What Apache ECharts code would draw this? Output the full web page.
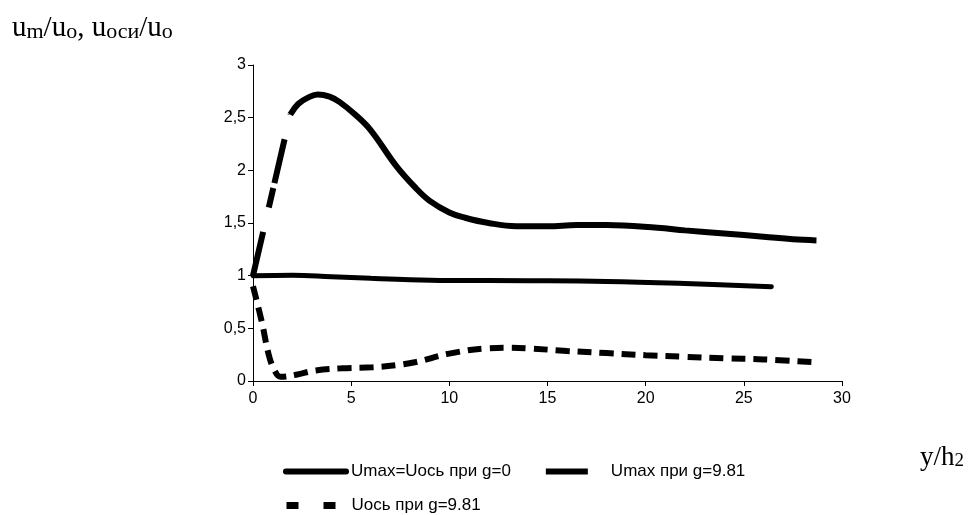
<!DOCTYPE html>
<html>
<head>
<meta charset="utf-8">
<script src="https://cdn.jsdelivr.net/npm/echarts@6/dist/echarts.min.js"></script>
<style>
  html, body { margin: 0; padding: 0; background: #fff; }
  #main { width: 976px; height: 515px; }
</style>
</head>
<body>
<div id="main"></div>
<script>
// данные
var xTicks = [0, 5, 10, 15, 20, 25, 30];
var yTicks = [0, 0.5, 1, 1.5, 2, 2.5, 3];

var names = ['Umax=Uось при g=0', 'Umax при g=9.81', 'Uось при g=9.81'];

// Umax=Uось при g=0
var g0X = [0, 2, 4, 6, 8, 10, 14, 18, 22, 26.4];
var g0Y = [1.0, 1.005, 0.99, 0.975, 0.962, 0.955, 0.952, 0.945, 0.925, 0.895];

// Umax при g=9.81 (начальный участок, штрихом)
var umaxRiseX = [0, 1.9];
var umaxRiseY = [1.0, 2.53];
// Umax при g=9.81 (дальше)
var umaxX = [1.9, 2.3, 2.8, 3.3, 3.9, 4.4, 5.2, 6.0, 7.3, 8.3, 9.0, 10.0, 10.8, 12, 13.4, 15, 16.5, 18, 20.6, 22, 24, 26, 27.5, 28.7];
var umaxY = [2.53, 2.63, 2.69, 2.72, 2.70, 2.65, 2.53, 2.38, 2.04, 1.83, 1.71, 1.60, 1.55, 1.50, 1.47, 1.47, 1.48, 1.48, 1.455, 1.43, 1.40, 1.37, 1.345, 1.335];

// Uось при g=9.81
var uosX = [0, 0.45, 0.8, 1.1, 1.4, 2.2, 3.2, 4.5, 6.1, 7.3, 8.3, 10, 11.9, 13, 14, 16, 18, 20, 22, 24, 26, 28.5];
var uosY = [0.9, 0.56, 0.25, 0.1, 0.04, 0.06, 0.10, 0.12, 0.13, 0.15, 0.18, 0.26, 0.31, 0.315, 0.31, 0.285, 0.265, 0.245, 0.23, 0.215, 0.205, 0.18];

function pairs(xs, ys) {
    return xs.map(function (x, i) { return [x, ys[i]]; });
}

var myChart = echarts.init(document.getElementById('main'));

var font = 'Liberation Sans, Arial, sans-serif';
var serif = 'Liberation Serif, Times New Roman, serif';

var option = {
    animation: false,
    backgroundColor: '#fff',
    color: ['#000', '#000', '#000'],
    title: [
        {
            text: 'u{s|m}/u{s|o}, u{s|оси}/u{s|o}',
            left: 7,
            top: 9,
            textStyle: {
                fontFamily: serif,
                fontSize: 29,
                fontWeight: 'normal',
                color: '#000',
                rich: {
                    s: {fontFamily: serif, fontSize: 22, color: '#000', verticalAlign: 'bottom'}
                }
            }
        },
        {
            text: 'y/h{s|2}',
            left: 915,
            top: 439,
            textStyle: {
                fontFamily: serif,
                fontSize: 27,
                fontWeight: 'normal',
                color: '#000',
                rich: {
                    s: {fontFamily: serif, fontSize: 19, color: '#000', verticalAlign: 'bottom'}
                }
            }
        }
    ],
    grid: {left: 253, right: 134, top: 65, bottom: 134, containLabel: false},
    legend: [
        {
            left: 278,
            top: 458,
            itemWidth: 60,
            itemHeight: 8,
            itemGap: 32,
            itemStyle: {opacity: 0},
            textStyle: {fontFamily: font, fontSize: 17, color: '#000'},
            data: [
                {name: names[0], lineStyle: {width: 6, type: 'solid', cap: 'round'}},
                {name: names[1], lineStyle: {width: 6, type: [42, 30]}}
            ]
        },
        {
            left: 278,
            top: 492,
            itemWidth: 60,
            itemHeight: 8,
            itemStyle: {opacity: 0},
            textStyle: {fontFamily: font, fontSize: 17, color: '#000'},
            data: [
                {name: names[2], lineStyle: {width: 7, type: [12, 25]}}
            ]
        }
    ],
    xAxis: {
        type: 'value',
        min: 0,
        max: 30,
        interval: 5,
        axisLine: {lineStyle: {color: '#000', width: 1}},
        axisTick: {show: true, length: 5, lineStyle: {color: '#000'}},
        splitLine: {show: false},
        axisLabel: {color: '#000', fontFamily: font, fontSize: 16, margin: 10}
    },
    yAxis: {
        type: 'value',
        min: 0,
        max: 3,
        interval: 0.5,
        axisLine: {show: true, lineStyle: {color: '#000', width: 1}},
        axisTick: {show: true, length: 5, lineStyle: {color: '#000'}},
        splitLine: {show: false},
        axisLabel: {
            color: '#000', fontFamily: font, fontSize: 16, margin: 7,
            formatter: function (v) { return String(v).replace('.', ','); }
        }
    },
    series: [
        {
            name: names[0],
            type: 'line',
            showSymbol: false,
            symbol: 'none',
            smooth: 0.4,
            lineStyle: {color: '#000', width: 5, cap: 'round'},
            data: pairs(g0X, g0Y)
        },
        {
            name: names[1],
            type: 'line',
            symbol: 'none',
            lineStyle: {color: '#000', width: 6, type: [45, 25, 20, 5]},
            data: pairs(umaxRiseX, umaxRiseY)
        },
        {
            name: names[1],
            type: 'line',
            symbol: 'none',
            smooth: 0.4,
            lineStyle: {color: '#000', width: 6},
            data: pairs(umaxX, umaxY)
        },
        {
            name: names[2],
            type: 'line',
            symbol: 'none',
            smooth: 0.4,
            lineStyle: {color: '#000', width: 6, type: [14, 8]},
            data: pairs(uosX, uosY)
        }
    ]
};

myChart.setOption(option);
</script>
</body>
</html>
